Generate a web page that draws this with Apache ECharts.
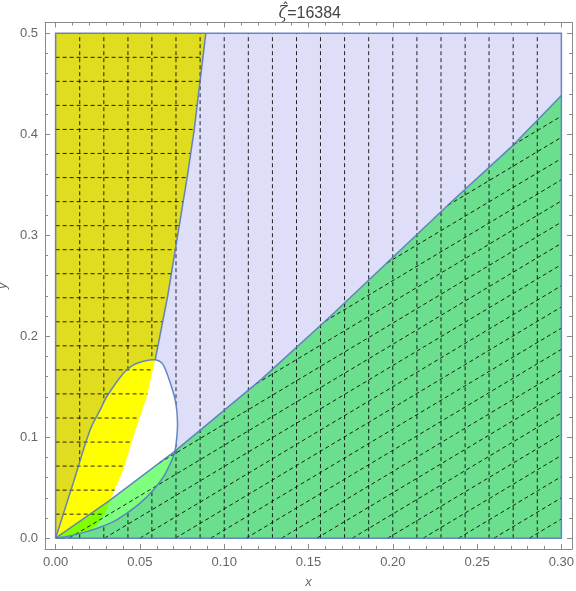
<!DOCTYPE html>
<html>
<head>
<meta charset="utf-8">
<script src="https://cdn.jsdelivr.net/npm/echarts@6/dist/echarts.min.js"></script>
<style>
html, body { margin: 0; padding: 0; background: #fff; }
#container { width: 576px; height: 591px; }
</style>
</head>
<body>
<div id="container"></div>
<script>
const titleText = '{z|ζ}=16384';

// frame ticks
const xMajor = [0, 0.05, 0.1, 0.15, 0.2, 0.25, 0.3];
const xMinor = [0.01, 0.02, 0.03, 0.04, 0.06, 0.07, 0.08, 0.09, 0.11, 0.12, 0.13, 0.14,
    0.16, 0.17, 0.18, 0.19, 0.21, 0.22, 0.23, 0.24, 0.26, 0.27, 0.28, 0.29];
const yMajor = [0, 0.1, 0.2, 0.3, 0.4, 0.5];
const yMinor = [0.02, 0.04, 0.06, 0.08, 0.12, 0.14, 0.16, 0.18, 0.22, 0.24, 0.26, 0.28,
    0.32, 0.34, 0.36, 0.38, 0.42, 0.44, 0.46, 0.48];

// boundary of the yellow region (x = f(y)) as [x, y]
const fCurve = [[0, 0], [0.02, 0.0075], [0.0245, 0.0132], [0.0295, 0.025], [0.0325, 0.038],
    [0.0402, 0.0677], [0.0455, 0.0974], [0.0541, 0.1403], [0.0591, 0.1767], [0.0665, 0.24],
    [0.0739, 0.3153], [0.0781, 0.358], [0.0822, 0.4044], [0.0891, 0.5]];
// top of the green region
const gCurve = [[0, 0], [0.0317, 0.037], [0.0702, 0.0855], [0.0858, 0.107], [0.1215, 0.1565],
    [0.1629, 0.2195], [0.2361, 0.3351], [0.27, 0.387], [0.3, 0.4385]];
// closed loop near the origin, starts and ends at the origin
const loopCurve = [[0, 0], [0.0106, 0.0555], [0.0205, 0.1073], [0.0264, 0.127], [0.0304, 0.1403],
    [0.0402, 0.1634], [0.0462, 0.1717], [0.0501, 0.1743], [0.055, 0.1762], [0.0591, 0.1767],
    [0.063, 0.1735], [0.066, 0.1634], [0.0709, 0.137], [0.0723, 0.1139], [0.0715, 0.0941],
    [0.0705, 0.084], [0.068, 0.074], [0.064, 0.061], [0.058, 0.0478], [0.0501, 0.0347],
    [0.0423, 0.0248], [0.0343, 0.0164], [0.0264, 0.0109], [0.0185, 0.0065], [0.009, 0.0025], [0, 0]];

// mesh lines: x = const, y = const (yellow), x - y = const (green)
const meshX = [0.0143, 0.0286, 0.0429, 0.0571, 0.0714, 0.0857, 0.1, 0.1143, 0.1286, 0.1429,
    0.1571, 0.1714, 0.1857, 0.2, 0.2143, 0.2286, 0.2429, 0.2571, 0.2714, 0.2857];
const meshY = [0.0238, 0.0476, 0.0714, 0.0952, 0.119, 0.1429, 0.1667, 0.1905, 0.2143, 0.2381,
    0.2619, 0.2857, 0.3095, 0.3333, 0.3571, 0.381, 0.4048, 0.4286, 0.4524, 0.4762];
const meshD = [-0.118, -0.097, -0.076, -0.055, -0.034, -0.013, 0.008, 0.029, 0.05, 0.071,
    0.092, 0.113, 0.134, 0.155, 0.176, 0.197, 0.218, 0.239, 0.26, 0.281];

const colors = {
    back: '#dedef9', olive: '#e0dc1f', green: '#6cdf8e',
    loop: '#ffffff', yellow: '#ffff00', lime: 'rgba(0,255,0,0.5)',
    edge: 'rgba(88,122,190,0.9)', frame: '#8a8a8a', text: '#666'
};
const font = 'Liberation Sans';

var dom = document.getElementById("container");
var myChart = echarts.init(dom);

let fAt = y => {
    for (let i = 1; i < fCurve.length; i++) {
        let a = fCurve[i - 1], b = fCurve[i];
        if (y <= b[1]) return a[0] + (b[0] - a[0]) * (y - a[1]) / (b[1] - a[1]);
    }
    return fCurve[fCurve.length - 1][0];
};

// where the line y = x - c enters the green region
let diagStart = c => {
    if (c >= 0) return [c, 0];
    for (let i = 1; i < gCurve.length; i++) {
        let a = gCurve[i - 1], b = gCurve[i];
        let ha = a[1] - a[0] + c, hb = b[1] - b[0] + c;
        if (ha <= 0 && hb > 0) {
            let t = -ha / (hb - ha);
            let x = a[0] + t * (b[0] - a[0]);
            return [x, x - c];
        }
    }
    return null;
};

let renderPlot = (params, api) => {
    let x0 = xMajor[0], x1 = xMajor[xMajor.length - 1];
    let y0 = yMajor[0], y1 = yMajor[yMajor.length - 1];
    let pt = p => api.coord(p);
    let area = (pts, fill) => ({ type: 'polygon', shape: { points: pts.map(pt) }, style: { fill: fill } });
    let dash = (a, b) => {
        let p = pt(a), q = pt(b);
        return {
            type: 'line',
            shape: { x1: p[0], y1: p[1], x2: q[0], y2: q[1] },
            style: { stroke: '#000', lineWidth: 1, lineDash: [4, 3], opacity: 0.85 }
        };
    };
    let edge = (pts, smooth) => ({
        type: 'polyline',
        shape: { points: pts.map(pt), smooth: smooth || 0 },
        style: { fill: 'none', stroke: colors.edge, lineWidth: 1.5 }
    });

    let box = [[x0, y0], [x1, y0], [x1, y1], [x0, y1]];
    let regionA = [[x0, y1]].concat(fCurve);
    let regionB = [[x1, y0]].concat(gCurve);
    let loopTop = Math.max(...loopCurve.map(p => p[1]));
    let loopShape = { points: loopCurve.map(pt), smooth: 0.35 };

    let children = [];
    children.push(area(box, colors.back));
    children.push(area(regionA, colors.olive));
    children.push(area(regionB, colors.green));
    meshX.forEach(x => children.push(dash([x, y0], [x, y1])));
    // inside the loop: white, yellow where left of f, half green where under g
    children.push({
        type: 'group',
        clipPath: { type: 'polyline', shape: loopShape },
        children: [area(box, colors.loop), area(regionA, colors.yellow), area(regionB, colors.lime)]
    });
    meshY.forEach(y => children.push(dash([x0, y], [fAt(y), y])));
    meshD.forEach(c => {
        let s = diagStart(c);
        if (s) children.push(dash(s, [x1, x1 - c]));
    });
    children.push(edge(box.concat([box[0]])));
    children.push(edge(gCurve));
    children.push(edge(fCurve.filter(p => p[1] >= loopTop - 0.001)));
    children.push({ type: 'polyline', shape: loopShape, style: { fill: 'none', stroke: colors.edge, lineWidth: 1.5 } });
    return { type: 'group', children: children };
};

let axisRange = { x: [-0.0063, 0.3063], y: [-0.0107, 0.5107] };
let frameAxis = (dim, position, ticks, len, labels) => {
    let isX = dim === 'x';
    let axis = {
        type: 'value',
        position: position,
        min: axisRange[dim][0],
        max: axisRange[dim][1],
        axisLine: { show: len > 4, onZero: false, lineStyle: { color: colors.frame, width: 1 } },
        axisTick: { show: true, inside: true, length: len, customValues: ticks, lineStyle: { color: colors.frame } },
        axisLabel: { show: false },
        splitLine: { show: false }
    };
    if (labels) {
        axis.axisLabel = {
            show: true,
            customValues: ticks,
            formatter: v => v.toFixed(isX ? 2 : 1),
            color: colors.text,
            fontSize: 13,
            fontFamily: font,
            margin: 7
        };
        axis.name = dim;
        axis.nameLocation = 'middle';
        axis.nameGap = isX ? 27 : 27;
        axis.nameTextStyle = { color: colors.text, fontSize: 13, fontStyle: 'italic', fontFamily: font };
    }
    return axis;
};

var option = {
    animation: false,
    graphic: [{
        type: 'text',
        x: 278.5,
        y: 13.5,
        style: {
            text: titleText,
            fill: '#444',
            fontSize: 16,
            fontFamily: font,
            align: 'left',
            verticalAlign: 'middle',
            rich: { z: { fontFamily: 'DejaVu Serif', fontStyle: 'italic', fontSize: 16, fill: '#444' } }
        }
    }, {
        type: 'text',
        x: 285.5,
        y: 9,
        style: {
            text: '\u02c6',
            fill: '#444',
            fontSize: 14,
            fontFamily: 'DejaVu Sans',
            align: 'center',
            verticalAlign: 'middle'
        }
    }],
    grid: { left: 45, right: 4, top: 22.5, bottom: 42, containLabel: false, outerBoundsMode: 'none' },
    xAxis: [
        frameAxis('x', 'bottom', xMajor, 5, true),
        frameAxis('x', 'bottom', xMinor, 3, false),
        frameAxis('x', 'top', xMajor, 5, false),
        frameAxis('x', 'top', xMinor, 3, false)
    ],
    yAxis: [
        frameAxis('y', 'left', yMajor, 5, true),
        frameAxis('y', 'left', yMinor, 3, false),
        frameAxis('y', 'right', yMajor, 5, false),
        frameAxis('y', 'right', yMinor, 3, false)
    ],
    series: [{
        type: 'custom',
        coordinateSystem: 'cartesian2d',
        xAxisIndex: 0,
        yAxisIndex: 0,
        silent: true,
        clip: false,
        data: [[0, 0]],
        renderItem: renderPlot
    }]
};
myChart.setOption(option);
</script>
</body>
</html>
